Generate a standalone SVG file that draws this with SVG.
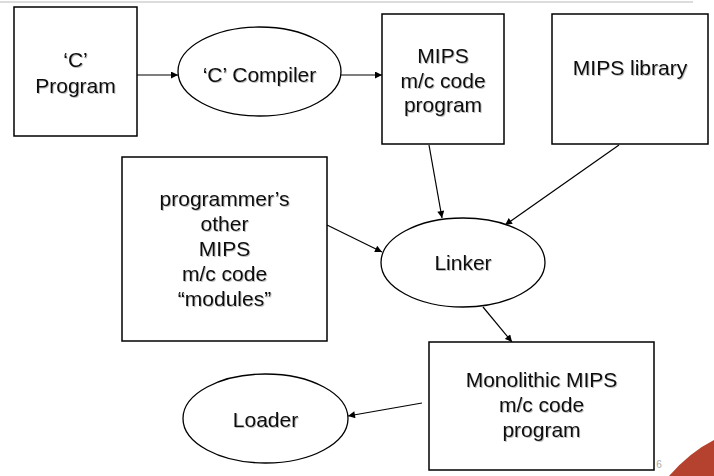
<svg xmlns="http://www.w3.org/2000/svg" width="714" height="476" viewBox="0 0 714 476">
<defs>
<marker id="arr" viewBox="0 0 10 10" refX="10" refY="5" markerWidth="8" markerHeight="7" markerUnits="userSpaceOnUse" orient="auto">
<path d="M0,0 L10,5 L0,10 z" fill="#000"/>
</marker>
<filter id="sh" x="-10%" y="-10%" width="120%" height="130%">
<feDropShadow dx="1" dy="1" stdDeviation="0.6" flood-color="#000" flood-opacity="0.25"/>
</filter>
<style>
.box{fill:#fff;stroke:#000;stroke-width:1.5}
.ell{fill:#fff;stroke:#000;stroke-width:1.3}
.t{font-family:"Liberation Sans",Arial,sans-serif;font-size:21px;fill:#111;text-anchor:middle;filter:url(#sh)}
.c{stroke:#000;stroke-width:1.2;fill:none;marker-end:url(#arr)}
</style>
</defs>
<rect width="714" height="476" fill="#fff"/>
<line x1="0" y1="2" x2="693" y2="2" stroke="#dcdcdc" stroke-width="2"/>
<path d="M669,476 Q690,452 714,440 L714,476 Z" fill="#b5412f"/>
<text x="659" y="468" font-family="Liberation Sans,Arial,sans-serif" font-size="10" fill="#aaa" text-anchor="middle">6</text>

<g id="connectors">
<line class="c" x1="137" y1="75" x2="178" y2="75"/>
<line class="c" x1="341" y1="75" x2="382" y2="75"/>
<line class="c" x1="429" y1="145" x2="442" y2="218"/>
<line class="c" x1="619" y1="145" x2="505" y2="225"/>
<line class="c" x1="327" y1="225" x2="382" y2="252"/>
<line class="c" x1="483" y1="307" x2="512" y2="342"/>
<line class="c" x1="422" y1="403" x2="348" y2="416"/>
</g>

<g id="c-program">
<rect class="box" x="14" y="7" width="123" height="129"/>
<text class="t" x="75.5" y="67">‘C’</text>
<text class="t" x="75.5" y="93">Program</text>
</g>
<g id="c-compiler">
<ellipse class="ell" cx="259.5" cy="71.5" rx="81.5" ry="44.5"/>
<text class="t" x="259.5" y="82">‘C’ Compiler</text>
</g>
<g id="mips-program">
<rect class="box" x="382" y="14" width="122" height="130"/>
<text class="t" x="443" y="63">MIPS</text>
<text class="t" x="443" y="87.5">m/c code</text>
<text class="t" x="443" y="112">program</text>
</g>
<g id="mips-library">
<rect class="box" x="552" y="14" width="156" height="130"/>
<text class="t" x="630" y="75">MIPS library</text>
</g>
<g id="modules">
<rect class="box" x="122" y="157" width="205" height="184"/>
<text class="t" x="224.5" y="206">programmer’s</text>
<text class="t" x="224.5" y="231">other</text>
<text class="t" x="224.5" y="256">MIPS</text>
<text class="t" x="224.5" y="281">m/c code</text>
<text class="t" x="224.5" y="306">“modules”</text>
</g>
<g id="linker">
<ellipse class="ell" cx="463" cy="262.5" rx="82" ry="44.5"/>
<text class="t" x="463" y="270">Linker</text>
</g>
<g id="monolithic">
<rect class="box" x="429" y="342" width="225" height="128"/>
<text class="t" x="541.5" y="387">Monolithic MIPS</text>
<text class="t" x="541.5" y="412">m/c code</text>
<text class="t" x="541.5" y="437">program</text>
</g>
<g id="loader">
<ellipse class="ell" cx="265.5" cy="418.5" rx="82.5" ry="44.5"/>
<text class="t" x="265.5" y="427">Loader</text>
</g>
</svg>
